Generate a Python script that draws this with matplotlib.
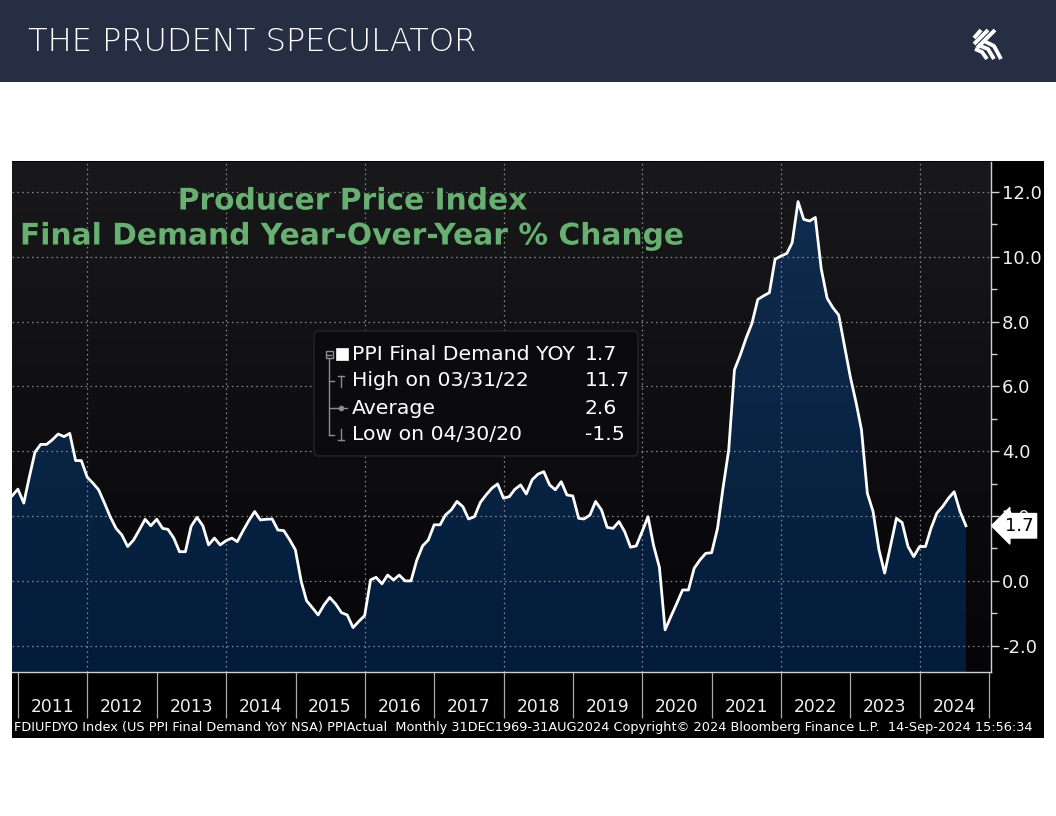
import numpy as np
import pandas as pd
import matplotlib
matplotlib.use("Agg")
import matplotlib.pyplot as plt
import matplotlib.dates as mdates
import matplotlib.patheffects as pe
from matplotlib.patches import Rectangle, FancyBboxPatch
from matplotlib.colors import LinearSegmentedColormap
from matplotlib.transforms import blended_transform_factory

# PPI final demand YoY %, month-end values Nov 2010 .. Aug 2024
start_month = "2010-11-30"
ppi_yoy = [
    2.62, 2.83,
    2.40, 3.17, 3.97, 4.21, 4.21, 4.35, 4.53, 4.45, 4.55, 3.71, 3.71, 3.20,  # 2011
    3.01, 2.81, 2.40, 1.98, 1.62, 1.42, 1.06, 1.26, 1.57, 1.90, 1.70, 1.90,  # 2012
    1.62, 1.59, 1.32, 0.90, 0.90, 1.68, 1.96, 1.70, 1.11, 1.32, 1.11, 1.24,  # 2013
    1.32, 1.21, 1.55, 1.86, 2.14, 1.88, 1.90, 1.91, 1.57, 1.55, 1.28, 0.96,  # 2014
    -0.02, -0.61, -0.83, -1.05, -0.74, -0.51, -0.71, -0.98, -1.05, -1.44, -1.25, -1.07,  # 2015
    0.03, 0.11, -0.09, 0.18, 0.03, 0.18, 0.00, 0.00, 0.63, 1.08, 1.26, 1.73,  # 2016
    1.73, 2.03, 2.19, 2.45, 2.29, 1.91, 1.98, 2.42, 2.65, 2.86, 2.99, 2.55,  # 2017
    2.60, 2.82, 2.96, 2.68, 3.12, 3.29, 3.37, 2.96, 2.81, 3.06, 2.65, 2.62,  # 2018
    1.93, 1.91, 2.03, 2.45, 2.19, 1.65, 1.62, 1.83, 1.52, 1.04, 1.08, 1.52,  # 2019
    1.98, 1.10, 0.42, -1.51, -1.09, -0.70, -0.28, -0.28, 0.39, 0.65, 0.85, 0.87,  # 2020
    1.62, 2.83, 4.04, 6.51, 6.97, 7.48, 7.94, 8.68, 8.79, 8.89, 9.92, 10.02,  # 2021
    10.10, 10.43, 11.70, 11.15, 11.10, 11.21, 9.63, 8.72, 8.43, 8.20, 7.27, 6.30,  # 2022
    5.49, 4.66, 2.70, 2.14, 0.96, 0.24, 1.09, 1.93, 1.80, 1.06, 0.75, 1.06,  # 2023
    1.06, 1.62, 2.09, 2.29, 2.55, 2.75, 2.14, 1.70,  # 2024
]
average_all = 2.6
year_labels = [str(y) for y in range(2011, 2025)]
y_ticks = [-2.0, 0.0, 2.0, 4.0, 6.0, 8.0, 10.0, 12.0]

dates = pd.date_range(start_month, periods=len(ppi_yoy), freq="ME")
vals = np.array(ppi_yoy)

plt.rcParams["axes.unicode_minus"] = False
plt.rcParams["font.family"] = ["DejaVu Sans"]

W, H = 1056, 816
fig = plt.figure(figsize=(W / 100, H / 100), dpi=100)


def box(x0, y0, x1, y1):
    # pixel box (top-left origin) -> figure fraction rect
    return [x0 / W, 1 - y1 / H, (x1 - x0) / W, (y1 - y0) / H]


# background layer in pixel coords
bg = fig.add_axes([0, 0, 1, 1], zorder=0)
bg.add_patch(Rectangle((0, 0), W, 82, color="#262e44", lw=0, zorder=1))
bg.add_patch(Rectangle((12, 161), 1032, 577, color="black", lw=0, zorder=1))
grad = np.linspace(0, 1, 256).reshape(-1, 1)
bg_cmap = LinearSegmentedColormap.from_list("bgc", ["#19191b", "#050507"])
bg.imshow(grad, extent=[12, 991, 672, 162], origin="upper", aspect="auto", cmap=bg_cmap,
          zorder=2)
bg.set_xlim(0, W)
bg.set_ylim(H, 0)
bg.axis("off")

# chart
ax = fig.add_axes(box(12, 162, 991, 672), zorder=1)
ax.patch.set_visible(False)
y_lo, y_hi = -2.81, 12.92
x_lo, x_hi = dates[0], pd.Timestamp("2025-01-10")

poly = ax.fill_between(dates, vals, y_lo, color="#0a2444", lw=0, zorder=2)
fill_cmap = LinearSegmentedColormap.from_list("fc", ["#031c3a", "#102c4e"])
im = ax.imshow(grad, extent=[mdates.date2num(x_lo), mdates.date2num(x_hi), y_lo, 12.0],
               origin="lower", aspect="auto", cmap=fill_cmap, zorder=2)
im.set_clip_path(poly.get_paths()[0], transform=ax.transData)
poly.set_visible(False)

grid_kw = dict(color="#85858c", lw=0.9, ls=(0, (1.3, 2.6)), zorder=3)
for v in y_ticks:
    ax.axhline(v, **grid_kw)
for d in pd.date_range("2012-01-01", "2024-01-01", freq="2YS"):
    ax.axvline(d, **grid_kw)

ax.plot(dates, vals, color="white", lw=2.0, zorder=4)

ax.set_xlim(x_lo, x_hi)
ax.set_ylim(y_lo, y_hi)

# y axis on the right
ax.yaxis.tick_right()
ax.set_yticks(y_ticks)
ax.set_yticklabels([f"{v:.1f}" for v in y_ticks])
ax.set_yticks(np.arange(-1, 13, 2), minor=True)
ax.tick_params(axis="y", which="major", length=6, width=1, color="#d0d0d0",
               labelcolor="#f0f0f0", labelsize=13, pad=2)
ax.tick_params(axis="y", which="minor", length=4, width=1, color="#d0d0d0")

# x axis: year dividers + centred labels
years = pd.date_range("2011-01-01", "2025-01-01", freq="YS")
ax.set_xticks(years)
ax.set_xticklabels([""] * len(years))
ax.set_xticks(years[:-1] + pd.DateOffset(months=6), minor=True)
ax.set_xticklabels(year_labels, minor=True)
ax.tick_params(axis="x", which="major", length=33, width=0.9, color="#a8a8a8")
ax.tick_params(axis="x", which="minor", length=0, pad=19, labelsize=12.3, labelcolor="#f0f0f0")

for s in ["left", "top"]:
    ax.spines[s].set_visible(False)
for s in ["right", "bottom"]:
    ax.spines[s].set_color("#d0d0d0")
    ax.spines[s].set_linewidth(1)

# last value tag
tr = blended_transform_factory(ax.transAxes, ax.transData)
ax.text(1.014, vals[-1], f"{vals[-1]:.1f}", transform=tr, ha="left", va="center",
        fontsize=13, color="black", zorder=10, clip_on=False,
        bbox=dict(boxstyle="larrow,pad=0.18", fc="white", ec="white"))

# foreground layer in pixel coords
fg = fig.add_axes([0, 0, 1, 1], zorder=2)
fg.set_xlim(0, W)
fg.set_ylim(H, 0)
fg.axis("off")
fg.patch.set_visible(False)

fg.text(28, 42, "THE PRUDENT SPECULATOR", color="white", fontsize=23, fontweight="light",
        ha="left", va="center")

# logo
logo_kw = dict(color="white", lw=2.8, solid_capstyle="butt")
for a, b in [((981, 30), (974, 38)), ((988, 30), (974, 44)), ((995, 30), (977, 48))]:
    fg.plot([a[0], b[0]], [a[1], b[1]], **logo_kw)
for pts in [[(975, 49), (982, 52), (987, 59)], [(978, 45), (988, 49), (994, 59)],
            [(984, 41), (994, 46), (1001, 59)]]:
    fg.plot([p[0] for p in pts], [p[1] for p in pts], **logo_kw)

# title
title_kw = dict(color="#69ae72", fontsize=21.4, fontweight="bold", ha="center", va="center",
                path_effects=[pe.withStroke(linewidth=1.2, foreground="#0e1a10")])
fg.text(353, 201, "Producer Price Index", **title_kw)
fg.text(353, 236, "Final Demand Year-Over-Year % Change", **title_kw)

# legend panel
fg.add_patch(FancyBboxPatch((314, 331), 324, 125, boxstyle="round,pad=0,rounding_size=5",
                            fc="#0b0b0d", ec="#26262a", lw=1, zorder=5))
gray = "#8c8c8c"
lk = dict(color=gray, lw=1, zorder=6)
fg.plot([329, 329], [359, 435], **lk)
for yy in [381, 408]:
    fg.plot([329, 334], [yy, yy], **lk)
fg.plot([329, 334], [435, 435], **lk)
fg.add_patch(Rectangle((325.5, 351), 7, 7, fc="none", ec=gray, lw=1, zorder=6))
fg.plot([327, 331], [354.5, 354.5], **lk)
fg.add_patch(Rectangle((336, 348), 12, 12, fc="white", ec="white", lw=0.5, zorder=6))
fg.plot([341, 341], [376, 387], **lk)
fg.plot([338, 344], [376, 376], **lk)
fg.plot([335, 347], [408, 408], **lk)
fg.plot([341], [408], "o", ms=3, color=gray, zorder=6)
fg.plot([341, 341], [429, 440], **lk)
fg.plot([338, 344], [440, 440], **lk)

i_hi = int(np.argmax(vals))
i_lo = int(np.argmin(vals))
rows = [
    ("PPI Final Demand YOY", vals[-1]),
    (f"High on {dates[i_hi]:%m/%d/%y}", vals[i_hi]),
    ("Average", average_all),
    (f"Low on {dates[i_lo]:%m/%d/%y}", vals[i_lo]),
]
for k, (lab, v) in enumerate(rows):
    yy = [355, 381, 408, 434][k]
    fg.text(352, yy, lab, color="white", fontsize=14.7, ha="left", va="center", zorder=7)
    fg.text(585, yy, f"{v:.1f}", color="white", fontsize=14.7,
            ha="left", va="center", zorder=7)

# footer
foot = fg.text(14, 727, "FDIUFDYO Index (US PPI Final Demand YoY NSA) PPIActual  Monthly "
               "31DEC1969-31AUG2024 Copyright\u00a9 2024 Bloomberg Finance L.P.  14-Sep-2024 15:56:34",
               color="white", fontsize=9.5, ha="left", va="center")
fig.canvas.draw()
wpx = foot.get_window_extent().width
foot.set_fontsize(9.5 * 1028 / wpx)

fig.savefig("out.png", dpi=100, facecolor="white")
